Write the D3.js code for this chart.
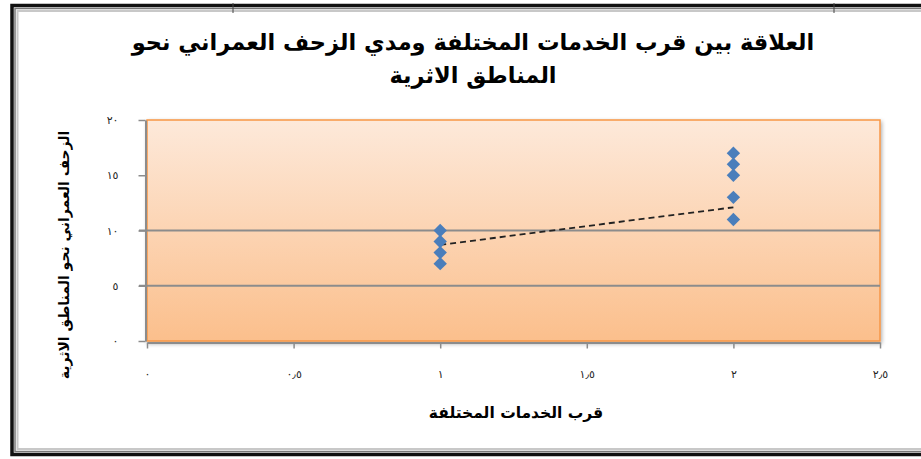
<!DOCTYPE html>
<html>
<head>
<meta charset="utf-8">
<script src="https://cdn.jsdelivr.net/npm/d3@7"></script>
<style>
  body { margin: 0; background: #fff; }
  svg { display: block; font-family: "DejaVu Sans", sans-serif; }
</style>
</head>
<body>
<svg id="chart" width="921" height="459"></svg>
<script>
// data
var xValues = [1, 1, 1, 1, 2, 2, 2, 2, 2];
var yValues = [10, 9, 8, 7, 17, 16, 15, 13, 11];
var trendX = [1, 2];
var trendY = [8.7, 12.1];
var xTicks = [0, 0.5, 1, 1.5, 2, 2.5];
var xTickLabels = ["٠", "٠٫٥", "١", "١٫٥", "٢", "٢٫٥"];
var yTicks = [0, 5, 10, 15, 20];
var yTickLabels = ["٠", "٥", "١٠", "١٥", "٢٠"];
var gridValues = [5, 10];
var titleLines = ["العلاقة بين قرب الخدمات المختلفة ومدي الزحف العمراني نحو", "المناطق الاثرية"];
var xTitle = "قرب الخدمات المختلفة";
var yTitle = "الزحف العمراني نحو المناطق الاثرية";

var svg = d3.select("#chart");
var plot = {left: 147, right: 880, top: 120, bottom: 341};

var x = d3.scaleLinear().domain([0, 2.5]).range([plot.left, plot.right]);
var y = d3.scaleLinear().domain([0, 20]).range([plot.bottom, plot.top]);

//outer frame (double border)
var frame = svg.append("g");
frame.append("rect").attr("x", 12).attr("y", 5.5).attr("width", 930).attr("height", 449)
   .attr("fill", "none").attr("stroke", "#111").attr("stroke-width", 3.5);
frame.append("rect").attr("x", 15).attr("y", 8.5).attr("width", 930).attr("height", 443)
   .attr("fill", "none").attr("stroke", "#777").attr("stroke-width", 1.5);
frame.append("rect").attr("x", 17.5).attr("y", 11).attr("width", 930).attr("height", 438)
   .attr("fill", "none").attr("stroke", "#c8c8c8").attr("stroke-width", 2);
frame.selectAll("line.cell").data([233, 834]).enter().append("line")
   .attr("x1", function(d){return d;}).attr("x2", function(d){return d;})
   .attr("y1", 3).attr("y2", 13).attr("stroke", "#444").attr("stroke-width", 1);

//plot background gradient
var defs = svg.append("defs");
var grad = defs.append("linearGradient").attr("id", "bg").attr("x1", 0).attr("y1", 0).attr("x2", 0).attr("y2", 1);
grad.append("stop").attr("offset", "0%").attr("stop-color", "#fde9da");
grad.append("stop").attr("offset", "100%").attr("stop-color", "#fbbf8c");
var shadow = defs.append("filter").attr("id", "shadow").attr("x", "-5%").attr("y", "-5%").attr("width", "110%").attr("height", "115%");
shadow.append("feGaussianBlur").attr("in", "SourceAlpha").attr("stdDeviation", 2);
shadow.append("feOffset").attr("dx", 1).attr("dy", 2).attr("result", "b");
shadow.append("feComponentTransfer").append("feFuncA").attr("type", "linear").attr("slope", 0.35);
var merge = shadow.append("feMerge");
merge.append("feMergeNode");
merge.append("feMergeNode").attr("in", "SourceGraphic");

svg.append("rect")
   .attr("x", plot.left).attr("y", plot.top)
   .attr("width", plot.right - plot.left).attr("height", plot.bottom - plot.top)
   .attr("fill", "url(#bg)").attr("stroke", "#f79646").attr("stroke-width", 1.5)
   .attr("filter", "url(#shadow)");

//gridlines
svg.selectAll("line.grid").data(gridValues).enter().append("line")
   .attr("class", "grid")
   .attr("x1", plot.left - 8).attr("x2", plot.right)
   .attr("y1", function(d){return y(d);}).attr("y2", function(d){return y(d);})
   .attr("stroke", "#8c8c8c").attr("stroke-width", 2);

//axes
var xAxis = svg.append("g").attr("transform", "translate(0," + (plot.bottom + 1.5) + ")")
   .call(d3.axisBottom(x).tickValues(xTicks).tickSize(6).tickSizeOuter(0)
      .tickFormat(function(d, i){return xTickLabels[i];}));
var yAxis = svg.append("g").attr("transform", "translate(" + (plot.left - 1.5) + ",0)")
   .call(d3.axisLeft(y).tickValues(yTicks).tickSize(7).tickSizeOuter(0)
      .tickFormat(function(d, i){return yTickLabels[i];}));
[xAxis, yAxis].forEach(function(a){
   a.select(".domain").attr("stroke", "#8c8c8c").attr("stroke-width", 2);
   a.selectAll(".tick line").attr("stroke", "#8c8c8c").attr("stroke-width", 1.5);
   a.selectAll("text").attr("fill", "#222").attr("font-size", 11)
      .attr("font-family", "DejaVu Sans, sans-serif");
});
xAxis.selectAll("text").attr("dy", "0").attr("y", 35);
yAxis.selectAll("text").attr("x", -27);

//trend line
svg.append("path")
   .datum(d3.zip(trendX, trendY))
   .attr("d", d3.line().x(function(d){return x(d[0]);}).y(function(d){return y(d[1]);}))
   .attr("fill", "none").attr("stroke", "#222").attr("stroke-width", 1.8)
   .attr("stroke-dasharray", "6,4");

//points
var diamond = d3.symbol().type(d3.symbolDiamond2).size(115);
svg.selectAll("path.pt").data(d3.zip(xValues, yValues)).enter().append("path")
   .attr("class", "pt")
   .attr("transform", function(d){return "translate(" + x(d[0]) + "," + y(d[1]) + ")";})
   .attr("d", diamond)
   .attr("fill", "#4a7ebb");

//titles
svg.selectAll("text.title").data(titleLines).enter().append("text")
   .attr("class", "title")
   .attr("x", 473).attr("y", function(d, i){return 50 + i * 33;})
   .attr("text-anchor", "middle").attr("direction", "rtl")
   .attr("font-size", 22.5).attr("font-weight", "bold").attr("fill", "#000")
   .text(function(d){return d;});

svg.append("text")
   .attr("x", 516).attr("y", 418)
   .attr("text-anchor", "middle").attr("direction", "rtl")
   .attr("font-size", 15.5).attr("font-weight", "bold").attr("fill", "#000")
   .text(xTitle);

svg.append("text")
   .attr("transform", "translate(69,255) rotate(-90)")
   .attr("text-anchor", "middle").attr("direction", "rtl")
   .attr("font-size", 14).attr("font-weight", "bold").attr("fill", "#000")
   .text(yTitle);
</script>
</body>
</html>
